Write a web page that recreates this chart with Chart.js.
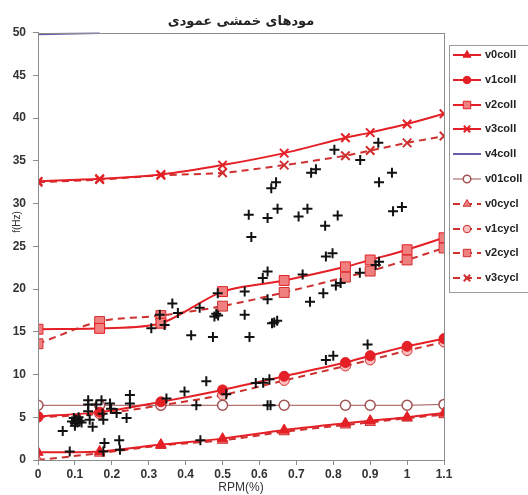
<!DOCTYPE html>
<html>
<head>
<meta charset="utf-8">
<script src="https://cdn.jsdelivr.net/npm/chart.js@4.4.0/dist/chart.umd.min.js"></script>
<style>
  body { margin: 0; background: #fff; }
</style>
</head>
<body>
<canvas id="modesChart" width="528" height="495"></canvas>
<script>
// RPM positions shared by all mode curves
var rpm = [0, 0.167, 0.333, 0.5, 0.667, 0.833, 0.9, 1.0, 1.1];

var v0coll = [0.9, 1.0, 1.8, 2.5, 3.5, 4.3, 4.6, 5.0, 5.5];
var v1coll = [5.1, 5.6, 6.8, 8.2, 9.8, 11.4, 12.2, 13.3, 14.2];
var v2coll = [15.3, 15.4, 16.0, 19.7, 21.0, 22.6, 23.4, 24.6, 26.0];
var v3coll = [32.6, 32.9, 33.4, 34.5, 35.9, 37.7, 38.3, 39.3, 40.5];
var v4coll = [49.8, 49.95];
var v4rpm = [0, 0.167];
var v01coll = [6.4, 6.4, 6.4, 6.4, 6.4, 6.4, 6.4, 6.4, 6.5];
var v0cycl = [0.0, 0.8, 1.7, 2.3, 3.3, 4.1, 4.4, 4.9, 5.3];
var v1cycl = [5.0, 5.4, 6.4, 7.6, 9.3, 11.0, 11.7, 12.8, 13.8];
var v2cycl = [13.6, 16.2, 16.9, 18.0, 19.6, 21.4, 22.1, 23.4, 24.8];
var v3cycl = [32.5, 32.8, 33.3, 33.6, 34.5, 35.6, 36.2, 37.1, 37.9];

// measured points (black +)
var crossPts = [
    [0.067, 3.4], [0.086, 1.0], [0.092, 4.5], [0.097, 4.9], [0.1, 4.3], [0.103, 4.7], [0.107, 4.4],
    [0.11, 5.0], [0.113, 4.6], [0.118, 4.4], [0.1, 4.0], [0.136, 7.0], [0.136, 6.5], [0.136, 5.7],
    [0.14, 4.7], [0.148, 3.9], [0.158, 6.5], [0.172, 7.0], [0.177, 4.7], [0.175, 5.4], [0.18, 2.0],
    [0.177, 1.0], [0.195, 6.6], [0.198, 6.0], [0.213, 5.5], [0.22, 2.3], [0.222, 1.2], [0.24, 4.9],
    [0.249, 7.6], [0.249, 6.6],
    [0.348, 7.2], [0.397, 8.0], [0.429, 6.4], [0.456, 9.2], [0.44, 2.3], [0.51, 7.7], [0.59, 9.0],
    [0.61, 9.05], [0.627, 9.45], [0.622, 6.4], [0.63, 6.4], [0.78, 11.7], [0.8, 12.2], [0.893, 13.5],
    [0.307, 15.4], [0.343, 15.8], [0.33, 17.0], [0.364, 18.3], [0.379, 17.2], [0.415, 14.6],
    [0.438, 17.8], [0.474, 14.4], [0.478, 16.8], [0.483, 17.1], [0.488, 16.9], [0.487, 19.5],
    [0.56, 19.7], [0.56, 17.0], [0.573, 14.4], [0.609, 21.3], [0.622, 22.05], [0.622, 18.8],
    [0.634, 16.0], [0.64, 16.1], [0.648, 16.3],
    [0.571, 28.7], [0.578, 26.1], [0.622, 28.3], [0.649, 29.4], [0.632, 31.8], [0.645, 32.5],
    [0.706, 28.5], [0.73, 29.4], [0.74, 33.6], [0.753, 34.0], [0.778, 27.4], [0.812, 28.6],
    [0.78, 23.8], [0.798, 24.2], [0.803, 36.3], [0.873, 35.1], [0.922, 37.1], [0.924, 32.5],
    [0.959, 33.6], [0.962, 29.1], [0.986, 29.6], [0.717, 21.7], [0.872, 21.9], [0.915, 22.8],
    [0.924, 23.2], [0.737, 18.5], [0.773, 19.5], [0.807, 20.4], [0.82, 20.7]
];

var red = 'rgb(228,32,38)';
var redDash = 'rgb(206,48,48)';
var pink = 'rgb(240,128,128)';

function pts(xs, ys) {
    return ys.map(function (y, i) { return { x: xs[i], y: y }; });
}

function series(label, ys, dashed, style, radius, fill) {
    return {
        label: label,
        data: pts(rpm, ys),
        showLine: true,
        tension: 0.3,
        borderColor: dashed ? redDash : red,
        borderWidth: 2,
        borderDash: dashed ? [7, 5] : [],
        pointStyle: style,
        pointRadius: radius,
        pointBackgroundColor: fill,
        pointBorderColor: dashed ? redDash : red,
        pointBorderWidth: style === 'crossRot' ? 2 : 1
    };
}

var datasets = [
    {
        label: '',
        data: crossPts.map(function (p) { return { x: p[0], y: p[1] }; }),
        showLine: false,
        pointStyle: 'cross',
        pointRadius: 5,
        pointBorderWidth: 2,
        borderColor: '#111',
        pointBorderColor: '#111',
        order: -1
    },
    series('v0coll', v0coll, false, 'triangle', 6, red),
    series('v1coll', v1coll, false, 'circle', 5, red),
    series('v2coll', v2coll, false, 'rect', 7, pink),
    series('v3coll', v3coll, false, 'crossRot', 6, red),
    {
        label: 'v4coll',
        data: pts(v4rpm, v4coll),
        showLine: true,
        borderColor: 'rgb(104,92,168)',
        borderWidth: 2,
        pointRadius: 0
    },
    {
        label: 'v01coll',
        data: pts(rpm, v01coll),
        showLine: true,
        borderColor: 'rgb(160,82,82)',
        borderWidth: 1,
        pointStyle: 'circle',
        pointRadius: 5,
        pointBackgroundColor: '#fff',
        pointBorderColor: 'rgb(160,82,82)',
        pointBorderWidth: 1.5
    },
    series('v0cycl', v0cycl, true, 'triangle', 6, pink),
    series('v1cycl', v1cycl, true, 'circle', 5, 'rgb(250,190,190)'),
    series('v2cycl', v2cycl, true, 'rect', 7, pink),
    series('v3cycl', v3cycl, true, 'crossRot', 6, redDash)
];

// frame, y title and boxed legend like the original sheet
var extras = {
    id: 'extras',
    afterDraw: function (chart) {
        var ctx = chart.ctx;
        var a = chart.chartArea;
        ctx.save();
        ctx.strokeStyle = '#8c8c8c';
        ctx.lineWidth = 1;
        ctx.strokeRect(Math.round(a.left) + 0.5, Math.round(a.top) + 0.5, Math.round(a.right - a.left), Math.round(a.bottom - a.top));

        ctx.translate(17, 222);
        ctx.rotate(-Math.PI / 2);
        ctx.font = '10px "Liberation Sans"';
        ctx.fillStyle = '#333';
        ctx.textAlign = 'center';
        ctx.textBaseline = 'middle';
        ctx.fillText('f(Hz)', 0, 0);
        ctx.restore();

        ctx.save();
        ctx.strokeStyle = '#9a9a9a';
        ctx.strokeRect(449.5, 45.5, 100, 247);
        var items = chart.data.datasets.filter(function (d) { return d.label; });
        items.forEach(function (d, i) {
            var y = Math.round(55 + i * 24.8);
            ctx.save();
            ctx.strokeStyle = d.borderColor;
            ctx.lineWidth = d.borderWidth;
            ctx.setLineDash(d.borderDash || []);
            ctx.beginPath();
            ctx.moveTo(453, y);
            ctx.lineTo(481, y);
            ctx.stroke();
            ctx.setLineDash([]);
            if (d.pointRadius > 0) {
                ctx.fillStyle = d.pointBackgroundColor;
                ctx.strokeStyle = d.pointBorderColor;
                ctx.lineWidth = d.pointBorderWidth;
                Chart.helpers.drawPoint(ctx, {
                    pointStyle: d.pointStyle,
                    radius: d.pointRadius * 0.75,
                    rotation: 0,
                    borderWidth: d.pointBorderWidth
                }, 467, y);
            }
            ctx.fillStyle = '#222';
            ctx.font = 'bold 11px "Liberation Sans"';
            ctx.textBaseline = 'middle';
            ctx.fillText(d.label, 485, y);
            ctx.restore();
        });
        ctx.restore();
    }
};

var tickFont = { family: '"Liberation Sans", Arial, sans-serif', size: 12, weight: 'bold' };

var ctx1 = document.getElementById('modesChart').getContext('2d');
var modesChart = new Chart(ctx1, {
    type: 'scatter',
    data: { datasets: datasets },
    options: {
        responsive: false,
        animation: false,
        devicePixelRatio: 1,
        layout: { padding: { top: 7, right: 84, left: 0, bottom: 0 } },
        plugins: {
            legend: { display: false },
            tooltip: { enabled: false },
            title: {
                display: true,
                text: 'مودهای خمشی عمودی',
                fullSize: false,
                color: '#222',
                font: { family: '"DejaVu Sans", sans-serif', size: 13, weight: 'bold' },
                lineHeight: 1.2,
                padding: { top: 7, bottom: 3 }
            }
        },
        scales: {
            x: {
                type: 'linear',
                min: 0,
                max: 1.1,
                afterFit: function (s) { s.height = 35; },
                ticks: {
                    stepSize: 0.1,
                    padding: 2,
                    color: '#333',
                    font: tickFont,
                    callback: function (v) { return String(Math.round(v * 10) / 10); }
                },
                grid: { drawOnChartArea: false, tickLength: 5, color: '#8c8c8c' },
                border: { color: '#8c8c8c' },
                title: {
                    display: true,
                    text: 'RPM(%)',
                    color: '#333',
                    font: { family: '"Liberation Sans", Arial, sans-serif', size: 12 },
                    padding: 0
                }
            },
            y: {
                min: 0,
                max: 50,
                afterFit: function (s) { s.width = 38; },
                ticks: { stepSize: 5, padding: 7, color: '#333', font: tickFont },
                grid: { drawOnChartArea: false, tickLength: 5, color: '#8c8c8c' },
                border: { color: '#8c8c8c' }
            }
        }
    },
    plugins: [extras]
});
</script>
</body>
</html>
